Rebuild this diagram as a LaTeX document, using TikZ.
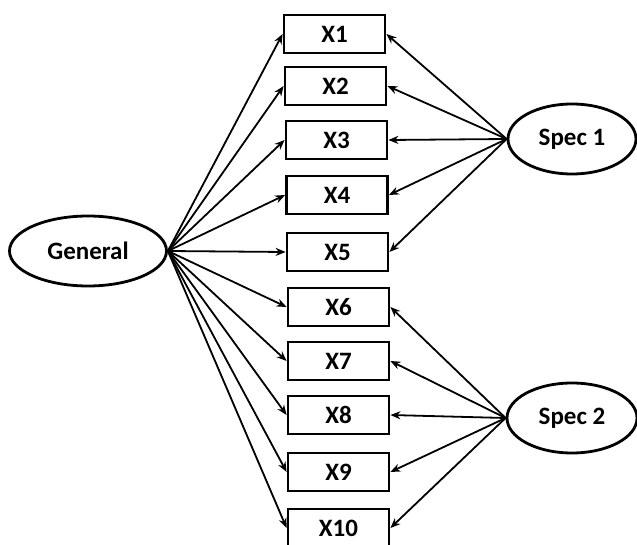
\documentclass[tikz,border=0pt]{standalone}
\usepackage{fontspec}
\setmainfont{Carlito}
\usetikzlibrary{arrows.meta,shapes.geometric}
\begin{document}
\begin{tikzpicture}[x=1pt,y=-1pt,
  obs/.style={draw,line width=2.8pt,minimum width=101pt,minimum height=38pt,inner sep=0pt,font=\fontsize{25}{28}\selectfont\bfseries},
  lat/.style={draw,ellipse,line width=2.8pt,inner sep=0pt,font=\fontsize{25}{28}\selectfont\bfseries},
  link/.style={line width=1.8pt,-{Stealth[length=10pt,width=8pt]}}]
\useasboundingbox (0,0) rectangle (637,545);
% latent factors
\node[lat,minimum width=157pt,minimum height=70pt] (G) at (88,251) {General};
\node[lat,minimum width=128pt,minimum height=70pt] (S1) at (572,139) {Spec 1};
\node[lat,minimum width=130pt,minimum height=70pt] (S2) at (572,418) {Spec 2};
% indicators
\node[obs] (x1) at (334.5,34) {X1};
\node[obs] (x2) at (335.5,86) {X2};
\node[obs] (x3) at (336.5,140) {X3};
\node[obs] (x4) at (337,195) {X4};
\node[obs] (x5) at (337.5,252) {X5};
\node[obs] (x6) at (338.5,307) {X6};
\node[obs] (x7) at (338.5,361) {X7};
\node[obs] (x8) at (338.5,415) {X8};
\node[obs] (x9) at (338.5,472) {X9};
\node[obs] (x10) at (338.5,528) {X10};
% loadings
\foreach \i in {1,...,10} \draw[link] (G.east) -- (x\i.west);
\foreach \i in {1,...,5} \draw[link] (S1.west) -- (x\i.east);
\foreach \i in {6,...,10} \draw[link] (S2.west) -- (x\i.east);
\end{tikzpicture}
\end{document}
